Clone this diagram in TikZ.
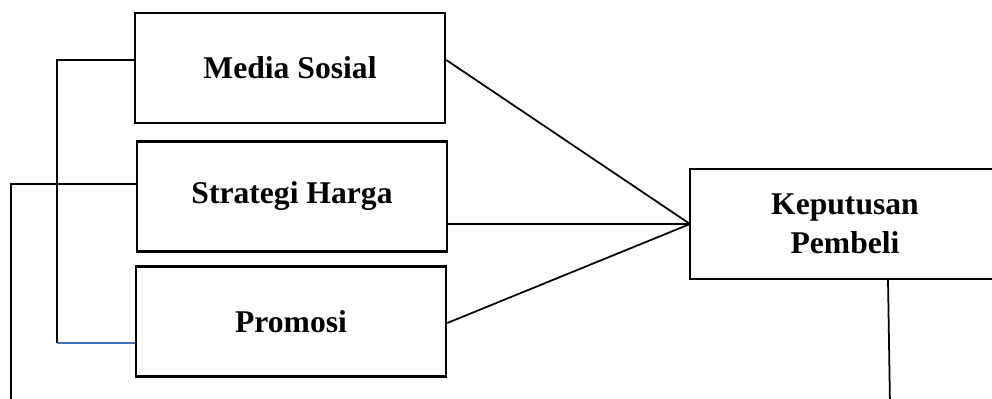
\documentclass[tikz,border=0pt]{standalone}
\usepackage{fontspec}
\setmainfont{Liberation Serif}
\usepackage{tikz}
\definecolor{linkblue}{RGB}{68,114,196}

\begin{document}
\begin{tikzpicture}[x=0.02cm, y=-0.02cm,
	varbox/.style={draw, line width=1.5pt, minimum width=6.2cm, minimum height=2.2cm, align=center, font=\fontsize{18}{22}\selectfont\bfseries},
	link/.style={line width=1pt}]
	\useasboundingbox (0,0) rectangle (992,399);
	\clip (0,0) rectangle (992,399);
	\node[varbox] (media) at (290,68) {Media Sosial};
	\node[varbox] (harga) at (292,196.5) {Strategi Harga};
	\node[varbox] (promosi) at (291,321.5) {Promosi};
	\node[varbox, draw=none, outer sep=0pt] (keputusan) at (845,224) {Keputusan\\Pembeli};
	% open on the right, cut by the page
	\draw[line width=1.5pt] ([xshift=20pt]keputusan.north east) -- (keputusan.north west) -- (keputusan.south west) -- ([xshift=20pt]keputusan.south east);
	% left brackets
	\coordinate (mL) at (57,60);
	\coordinate (pL) at (57,343);
	\coordinate (hL) at (11,184);
	\coordinate (hB) at (11,405);
	\draw[link] (media.west |- mL) -- (mL) -- (pL);
	\draw[link, color=linkblue] (pL) -- (promosi.west |- pL);
	\draw[link] (harga.west |- hL) -- (hL) -- (hB);
	% into the decision
	\coordinate (mR) at (445,60);
	\coordinate (pR) at (446,323);
	\draw[link] (media.east |- mR) -- (keputusan.west);
	\draw[link] (harga.east |- keputusan.west) -- (keputusan.west);
	\draw[link] (promosi.east |- pR) -- (keputusan.west);
	\coordinate (kB) at (890,405);
	\draw[link] (keputusan.south -| 888,0) -- (kB);
\end{tikzpicture}
\end{document}
